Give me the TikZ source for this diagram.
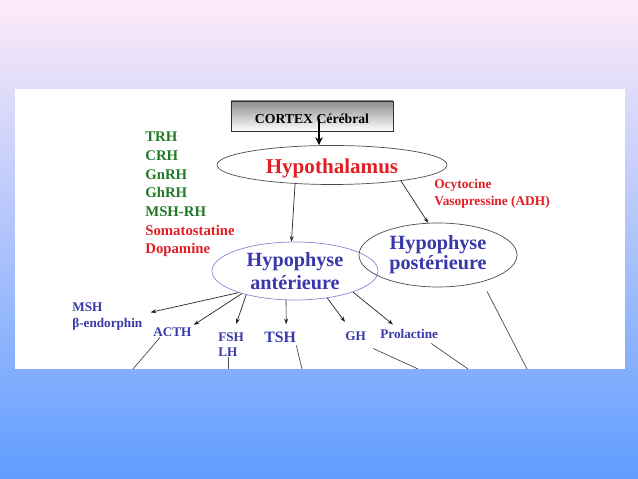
\documentclass[tikz,border=0pt]{standalone}
\usepackage{fontspec}
\setmainfont{Liberation Serif}
\usetikzlibrary{shapes.geometric,arrows.meta,calc}

\definecolor{hgreen}{RGB}{34,122,40}
\definecolor{hred}{RGB}{226,30,36}
\definecolor{hblue}{RGB}{56,56,170}
\definecolor{hlav}{RGB}{136,136,214}
\definecolor{bgtop}{RGB}{253,234,248}
\definecolor{bgbot}{RGB}{96,157,255}

\newcommand{\fs}[1]{\fontsize{#1}{#1}\selectfont\bfseries}
% arrow from the anterior pituitary to a hormone label
\newcommand{\arrowAnt}[3]{\draw[arrow] (ant.#1) -- ($(#2)+(#3)$);}

\begin{document}
\begin{tikzpicture}
    [x=0.2mm,y=-0.2mm,
    lbl/.style={inner sep=0pt, font=\fs{7.5pt}, text=hblue, anchor=base west},
    oval/.style={ellipse, draw=black!70, thin, inner sep=0pt},
    arrow/.style={-{Stealth[length=1.1mm,width=0.8mm]}, black!85, thin},
    bigarrow/.style={-{Stealth[length=1.6mm,width=1.5mm]}, line width=0.45mm},
    link/.style={black!70, thin},
    ]
    % background and panel
    \shade[top color=bgtop, bottom color=bgbot] (0,0) rectangle (638,479);
    \fill[white] (15,89) rectangle (625,369);
    \coordinate (bot) at (0,369);

    \node[draw=black!80, top color=black!45, bottom color=white, minimum width=32.4mm,
        minimum height=6mm, inner sep=0pt, text height=3mm, text depth=0pt,
        font=\fs{7.8pt}] (cortex) at (312,116) {CORTEX Cérébral};
    \node[oval, minimum width=46mm, minimum height=7.8mm, text height=3.6mm, text depth=0pt,
        font=\fs{12pt}, text=hred] (hypo) at (332,165) {Hypothalamus};
    \node[oval, draw=hlav, minimum width=33.2mm, minimum height=11.6mm, align=center,
        font=\fontsize{11.5pt}{12.8pt}\selectfont\bfseries, text=hblue]
        (ant) at (295,271) {Hypophyse\\antérieure};
    \node[oval, minimum width=31.6mm, minimum height=12.8mm, align=center,
        font=\fontsize{11.5pt}{11.5pt}\selectfont\bfseries, text=hblue]
        (post) at (438,255) {Hypophyse\\postérieure};

    % releasing hormones
    \foreach \t/\c [count=\i] in {TRH/hgreen, CRH/hgreen, GnRH/hgreen, GhRH/hgreen,
        MSH-RH/hgreen, Somatostatine/hred, Dopamine/hred}
        \node[lbl, font=\fs{8.4pt}, text=\c] (rh\i) at (145,123+18.7*\i) {\t};

    \node[lbl, font=\fs{7.6pt}, text=hred] (ocy) at (434,189) {Ocytocine};
    \node[lbl, font=\fs{7.6pt}, text=hred] (vaso) at (434,206) {Vasopressine (ADH)};

    % hormones of the anterior pituitary
    \node[lbl] (msh) at (72,312) {MSH};
    \node[lbl] (bend) at (72,328) {β-endorphin};
    \node[lbl] (acth) at (153,337) {ACTH};
    \node[lbl] (fsh) at (218,342) {FSH};
    \node[lbl] (lh) at (218,357) {LH};
    \node[lbl, font=\fs{9pt}] (tsh) at (264,343) {TSH};
    \node[lbl] (gh) at (345,341) {GH};
    \node[lbl] (prl) at (380,339) {Prolactine};

    \coordinate (cx) at (319,119);
    \draw[bigarrow] (cx) -- (cx |- hypo.north);
    \draw[arrow] (hypo.207) -- (ant.97);
    \draw[arrow] (hypo.347) -- (post.107);

    \arrowAnt{201}{bend.north east}{8,-6}
    \arrowAnt{203}{acth.north east}{2,-3}
    \arrowAnt{206}{fsh.north}{5,-9}
    \arrowAnt{253}{tsh.north}{6,-8}
    \arrowAnt{320}{gh.north west}{0,-10}
    \arrowAnt{340}{prl.north west}{13,-5}

    % lines leaving the panel
    \draw[link] ($(acth.south west)+(7,0)$) -- (133,369);
    \draw[link] (lh.south) -- (lh.south |- bot);
    \draw[link] ($(tsh.south east)+(0,2)$) -- (302,369);
    \draw[link] ($(gh.south east)+(7,7)$) -- (418,369);
    \draw[link] ($(prl.south east)+(-7,4)$) -- (468,369);
    \draw[link] ($(post.south)+(49,4)$) -- (527,369);
\end{tikzpicture}
\end{document}
